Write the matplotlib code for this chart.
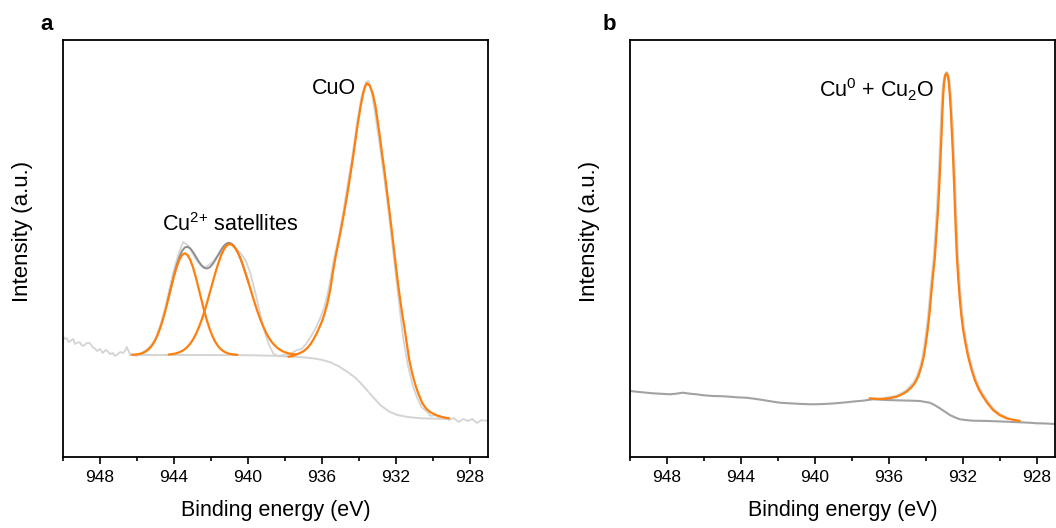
import matplotlib
matplotlib.use("Agg")
import matplotlib.pyplot as plt
from matplotlib.ticker import MultipleLocator, NullLocator

plt.rcParams['font.family'] = ['Liberation Sans', 'DejaVu Sans']
plt.rcParams['mathtext.fontset'] = 'custom'
plt.rcParams['mathtext.rm'] = 'Liberation Sans'
plt.rcParams['mathtext.it'] = 'Liberation Sans:italic'
plt.rcParams['mathtext.bf'] = 'Liberation Sans:bold'

# ---------------- Panel a data (binding energy eV, intensity a.u.) ----------------
raw_a_E = [950.0, 949.9, 949.8, 949.7, 949.6, 949.45, 949.35, 949.25, 949.1, 949.0,
           948.9, 948.7, 948.55, 948.4, 948.25, 948.15, 948.0, 947.85, 947.7, 947.6,
           947.45, 947.3, 947.2, 947.1, 946.9, 946.75, 946.65, 946.55, 946.4, 946.2,
           946.0, 945.75, 945.5, 945.25, 945.0, 944.75, 944.5, 944.25,
           944.0, 943.75, 943.5, 943.35, 943.2, 943.0, 942.75, 942.5, 942.3, 942.1,
           941.9, 941.7, 941.5, 941.3, 941.1, 940.95, 940.8, 940.6, 940.35, 940.1,
           939.85, 939.6, 939.35, 939.1, 938.85, 938.6, 938.35, 938.1, 937.85, 937.6,
           937.35, 937.1, 936.85, 936.6, 936.35, 936.1, 935.85, 935.6, 935.35, 935.1,
           934.85, 934.6, 934.35, 934.1, 933.85, 933.6, 933.45, 933.3, 933.1, 932.85,
           932.6, 932.35, 932.1, 931.85, 931.6, 931.35, 931.1, 930.85, 930.6, 930.35,
           930.1, 929.85, 929.6, 929.35, 929.1, 928.85, 928.6, 928.35, 928.1, 927.85,
           927.6, 927.35, 927.1, 927.0]
raw_a_I = [121, 118, 119, 115, 116, 118, 113, 114, 115, 112,
           111, 114, 114, 110, 108, 106, 108, 104, 107, 106,
           103, 104, 101, 102, 105, 104, 106, 110, 104, 102,
           101, 104, 107, 111, 118, 131, 147, 167,
           187, 203, 215, 213, 211, 204, 196, 191, 190, 192,
           195, 200, 203, 207, 212, 213, 211, 208, 203, 196,
           183, 165, 145, 126, 112, 103, 101, 102, 102, 104,
           107, 108, 113, 120, 128, 138, 150, 170, 197, 218,
           243, 272, 300, 333, 360, 375, 376, 365, 343, 310,
           277, 240, 200, 160, 120, 93, 73, 60, 50, 46,
           41, 42, 39, 40, 37, 39, 35, 38, 36, 38,
           34, 37, 36, 37]

bg_a_E = [946.4, 945.0, 944.0, 943.0, 940.0, 938.5, 937.74, 937.3, 936.9, 936.4,
          935.94, 935.5, 935.04, 934.6, 934.14, 933.7, 933.24, 932.8, 932.34, 931.9,
          931.44, 931.0, 930.54, 929.8, 929.1]
bg_a_I = [102, 102, 102, 102, 101.8, 101.2, 100.3, 100, 99.5, 98.5,
          97, 94.5, 90.3, 85, 78.7, 70, 60.3, 51.5, 45.3, 42,
          40.3, 39.3, 38.7, 38.3, 38]

env_a_E = [944.31, 944.16, 944.01, 943.86, 943.71, 943.56, 943.41, 943.26, 943.11, 942.96,
           942.81, 942.66, 942.51, 942.36, 942.21, 942.06, 941.91, 941.76, 941.61, 941.46,
           941.31, 941.16, 941.01, 940.86, 940.71, 940.56, 940.41, 940.26, 940.11, 939.96]
env_a_I = [157.7, 169.3, 180.7, 191.1, 199.7, 206.0, 209.5, 210.2, 208.5, 204.9,
           200.4, 195.7, 191.7, 189.1, 188.5, 189.7, 192.7, 197.0, 201.9, 206.7,
           210.8, 213.4, 214.3, 213.1, 210.1, 205.4, 199.2, 191.6, 183.2, 174.2]

sat1_E = [946.26, 946.11, 945.96, 945.81, 945.66, 945.51, 945.36, 945.21, 945.06, 944.91,
          944.76, 944.61, 944.46, 944.31, 944.16, 944.01, 943.86, 943.71, 943.56, 943.41,
          943.26, 943.11, 942.96, 942.81, 942.66, 942.51, 942.36, 942.21, 942.06, 941.91,
          941.76, 941.61, 941.46, 941.31, 941.16, 941.01, 940.86, 940.71, 940.56]
sat1_I = [102.2, 102.4, 102.8, 103.3, 104.2, 105.7, 107.8, 110.9, 115.1, 120.7,
          127.8, 136.4, 146.3, 157.3, 168.6, 179.6, 189.3, 197.0, 202.0, 203.7,
          202.0, 197.0, 189.3, 179.6, 168.6, 157.3, 146.3, 136.4, 127.8, 120.7,
          115.1, 110.9, 107.8, 105.7, 104.2, 103.3, 102.8, 102.4, 102.2]

sat2_E = [944.28, 944.13, 943.98, 943.83, 943.68, 943.53, 943.38, 943.23, 943.08, 942.93,
          942.78, 942.63, 942.48, 942.33, 942.18, 942.03, 941.88, 941.73, 941.58, 941.43,
          941.28, 941.13, 940.98, 940.83, 940.68, 940.53, 940.38, 940.23, 940.08, 939.93,
          939.78, 939.63, 939.48, 939.33, 939.18, 939.03, 938.88, 938.73, 938.58, 938.43,
          938.28, 938.13, 937.98, 937.83, 937.68, 937.53, 937.38]
sat2_I = [102.5, 102.8, 103.2, 103.9, 104.9, 106.3, 108.2, 110.8, 114.2, 118.6,
          124.0, 130.5, 138.0, 146.6, 156.0, 166.0, 176.0, 185.8, 194.7, 202.3,
          208.1, 211.8, 213.0, 212.0, 208.9, 204.1, 197.7, 190.0, 181.4, 172.4,
          163.2, 154.3, 145.8, 138.0, 131.1, 125.1, 119.9, 115.7, 112.3, 109.6,
          107.5, 105.9, 104.7, 103.8, 103.2, 102.8, 102.5]

cuo_E = [937.80, 937.65, 937.50, 937.35, 937.20, 937.05, 936.90, 936.75, 936.60, 936.45,
         936.30, 936.15, 936.00, 935.85, 935.70, 935.55, 935.40, 935.25, 935.10, 934.95,
         934.80, 934.65, 934.50, 934.35, 934.20, 934.05, 933.90, 933.75, 933.65, 933.55,
         933.40, 933.24, 933.10, 932.98, 932.85, 932.70, 932.61, 932.45, 932.34, 932.20,
         932.05, 931.98, 931.90, 931.80, 931.65, 931.53, 931.40, 931.26, 931.12, 931.00,
         930.90, 930.75, 930.55, 930.35, 930.15, 930.00, 929.75, 929.50, 929.30, 929.10]
cuo_I = [100.2, 100.8, 101.6, 102.6, 103.8, 105.1, 107.0, 109.5, 113.0, 117.5,
         122.5, 128.5, 135, 143, 153, 166, 184, 200, 214, 228,
         243, 259, 276, 294, 313, 333, 350, 364, 370.5, 373.7,
         371.5, 363.7, 352, 337, 320, 299, 287, 263, 247, 225,
         201.5, 190.3, 178, 163.7, 144, 130.3, 114, 97, 85, 76.5,
         70.3, 62.5, 53.7, 48.5, 45.2, 43.7, 41.5, 40.1, 39.2, 38.7]

# ---------------- Panel b data ----------------
bg_b_E = [950.0, 949.5, 948.76, 948.3, 947.86, 947.5, 947.14, 946.8, 946.41, 945.95,
          945.51, 945.05, 944.61, 944.15, 943.71, 943.25, 942.81, 942.35, 941.9, 941.45,
          941.0, 940.55, 940.1, 939.65, 939.19, 938.75, 938.29, 937.85, 937.39, 936.85,
          936.12, 935.58, 934.9, 934.32, 933.78, 933.5, 933.23, 932.95, 932.69, 932.4,
          932.15, 931.8, 931.43, 930.8, 930.16, 929.5, 928.9, 928.4, 927.99, 927.6, 927.0]
bg_b_I = [66, 65, 63.7, 63.2, 62.7, 63.3, 64.3, 63.4, 62.7, 61.6,
          61, 60.8, 60.3, 59.6, 59.3, 58.2, 57, 55.6, 54.3, 53.8,
          53.3, 52.9, 52.7, 52.9, 53.3, 53.9, 54.7, 55.6, 56.3, 57.7,
          57, 56.7, 56.4, 56, 54.3, 51.8, 48.7, 45.2, 42, 39.5,
          37.7, 36.9, 36.3, 36.1, 35.7, 35.2, 34.7, 34.3, 33.7, 33.6, 33]

peak_b_E = [937.03, 936.70, 936.31, 935.95, 935.58, 935.30, 935.04, 934.80, 934.59, 934.40,
            934.23, 934.10, 933.99, 933.90, 933.81, 933.74, 933.68, 933.60, 933.51, 933.42,
            933.33, 933.26, 933.20, 933.14, 933.09, 933.04, 933.00, 932.94, 932.87, 932.81,
            932.75, 932.70, 932.64, 932.58, 932.51, 932.46, 932.41, 932.36, 932.31, 932.23,
            932.15, 932.06, 931.97, 931.85, 931.70, 931.52, 931.34, 931.12, 930.89, 930.62,
            930.35, 930.00, 929.62, 929.25, 928.90]
peak_b_I = [58.7, 58.2, 58, 58.8, 60.3, 62.4, 65.3, 69, 73.7, 80.5,
            90.3, 100.5, 113.7, 126, 140.3, 154, 167, 182, 198, 222,
            247, 272, 297, 323, 347, 365, 375, 381.5, 383.7, 381.5,
            376, 364, 347, 324, 297, 272, 247, 222, 200, 177,
            157, 140, 127, 114, 100.3, 87.5, 77, 67.5, 60.3, 53,
            47, 42, 38.7, 37.2, 36]

raw_b_E = [936.35, 935.62, 935.08, 934.64, 934.45, 934.27, 934.14, 934.03, 933.94, 933.85,
           933.78, 933.72, 933.64, 933.55, 933.46, 933.37, 933.30, 933.24, 933.18, 933.13,
           933.07, 933.02, 932.95, 932.87, 932.79, 932.73, 932.67, 932.61, 932.54, 932.47,
           932.42, 932.37, 932.32, 932.27, 932.19, 932.11, 932.02, 931.93, 931.81, 931.66,
           931.48, 931.30, 931.08, 930.85, 930.58, 930.31, 929.96, 929.6]
raw_b_I = [58.3, 60.5, 65.6, 74, 80.8, 90.6, 100.8, 114, 126.3, 140.6,
           154.3, 167.3, 182.3, 198.3, 222.3, 247.3, 272.3, 297.3, 323.3, 347.3,
           365.3, 375.3, 382, 384.5, 382, 376.3, 364.3, 347.3, 324.3, 297.3,
           272.3, 247.3, 222.3, 200.3, 177.3, 157.3, 140.3, 127.3, 114.3, 100.6,
           87.8, 77.3, 67.8, 60.6, 53.3, 47.3, 42.3, 39]

xticks_major = [948, 944, 940, 936, 932, 928]
xlim = (950, 927)
ylim = (0, 417)

ORANGE = '#ff7f0e'
LIGHT = '#d4d4d4'
DARK = '#8e8e8e'
MID = '#a2a2a2'

fig = plt.figure(figsize=(10.56, 5.28), dpi=100)
ax_a = fig.add_axes([63/1056, 71/528, 425/1056, 417/528])
ax_b = fig.add_axes([630/1056, 71/528, 425/1056, 417/528])

kw = dict(solid_joinstyle='round', solid_capstyle='round')

# Panel a
ax_a.plot(raw_a_E, raw_a_I, color=LIGHT, lw=1.3, zorder=1, **kw)
ax_a.plot(env_a_E, env_a_I, color=DARK, lw=1.4, zorder=2, **kw)
ax_a.plot(bg_a_E, bg_a_I, color=LIGHT, lw=1.4, zorder=3, **kw)
ax_a.plot(sat1_E, sat1_I, color=ORANGE, lw=1.6, zorder=4, **kw)
ax_a.plot(sat2_E, sat2_I, color=ORANGE, lw=1.6, zorder=4, **kw)
ax_a.plot(cuo_E, cuo_I, color=ORANGE, lw=1.6, zorder=4, **kw)
ax_a.text(934.15, 369, 'CuO', ha='right', va='center', fontsize=15.5)
ax_a.text(944.65, 226, r'Cu$^{\text{2+}}$ satellites', ha='left', va='baseline', fontsize=15.5)

# Panel b
ax_b.plot(raw_b_E, raw_b_I, color=LIGHT, lw=2.0, zorder=1, **kw)
ax_b.plot(bg_b_E, bg_b_I, color=MID, lw=1.5, zorder=2, **kw)
ax_b.plot(peak_b_E, peak_b_I, color=ORANGE, lw=1.6, zorder=4, **kw)
ax_b.text(939.75, 360, r'Cu$^{\text{0}}$ + Cu$_{\text{2}}$O', ha='left', va='baseline', fontsize=15.5)

for ax in (ax_a, ax_b):
    ax.set_xlim(*xlim)
    ax.set_ylim(*ylim)
    ax.set_xticks(xticks_major)
    ax.xaxis.set_minor_locator(MultipleLocator(2))
    ax.yaxis.set_major_locator(NullLocator())
    ax.tick_params(axis='x', which='major', direction='out', length=5, width=1.2,
                   labelsize=12.5, pad=4)
    ax.tick_params(axis='x', which='minor', direction='out', length=3, width=1.2)
    for s in ax.spines.values():
        s.set_linewidth(1.3)
    ax.set_xlabel('Binding energy (eV)', fontsize=15.5, labelpad=11)
    ax.set_ylabel('Intensity (a.u.)', fontsize=16)
    ax.yaxis.set_label_coords(-0.07, 0.54)

fig.text(40/1056, 1 - 30/528, 'a', fontsize=16, fontweight='bold', ha='left', va='baseline')
fig.text(603/1056, 1 - 30/528, 'b', fontsize=16, fontweight='bold', ha='left', va='baseline')

fig.savefig('out.png', dpi=100)
